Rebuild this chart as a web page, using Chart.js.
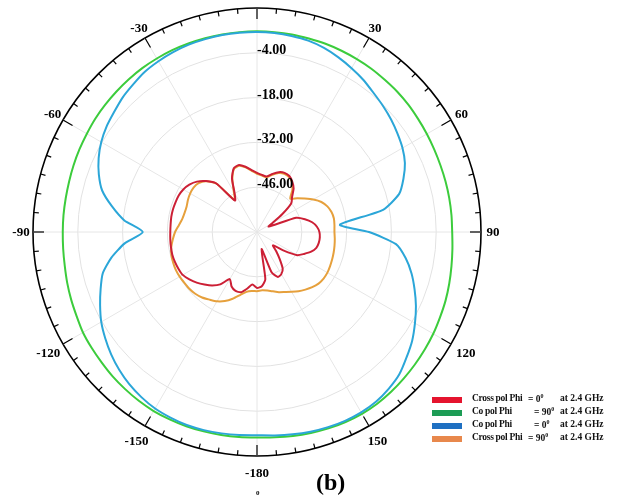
<!DOCTYPE html>
<html>
<head>
<meta charset="utf-8">
<script src="https://cdn.jsdelivr.net/npm/chart.js@4.4.1/dist/chart.umd.min.js"></script>
<style>
  body { margin: 0; background: #fff; }
  #wrap { position: relative; width: 625px; height: 499px; font-family: "Liberation Serif", serif; font-weight: bold; }
  #legend { position: absolute; left: 432px; top: 393px; font-size: 9.5px; color: #111; }
  .row { position: relative; height: 13px; width: 190px; }
  .sw { position: absolute; left: 0; top: 4px; width: 30px; height: 6px; }
  .row span { position: absolute; top: 0; white-space: nowrap; }
  .row .nm { letter-spacing: -0.3px; }
  .row sup { font-size: 6px; }
  #tag { position: absolute; left: 316px; top: 469px; font-size: 24px; }
  #tiny { position: absolute; left: 256px; top: 489px; font-size: 7px; }
</style>
</head>
<body>
<div id="wrap">
  <canvas id="polar" width="625" height="499"></canvas>
  <div id="legend"></div>
  <div id="tag">(b)</div>
  <div id="tiny">0</div>
</div>
<script>
// angle of every sample, degrees, clockwise from top
const angles = [0, 5, 10, 15, 20, 25, 30, 35, 40, 45, 50, 55, 60, 65, 70, 75, 80, 85,
  90, 95, 100, 105, 110, 115, 120, 125, 130, 135, 140, 145, 150, 155, 160, 165, 170, 175,
  -180, -175, -170, -165, -160, -155, -150, -145, -140, -135, -130, -125, -120, -115, -110, -105, -100, -95,
  -90, -85, -80, -75, -70, -65, -60, -55, -50, -45, -40, -35, -30, -25, -20, -15, -10, -5];
const shownAngles = [30, 60, 90, 120, 150, -180, -150, -120, -90, -60, -30];
const radialTicks = [-46, -32, -18, -4];

// dB values, one per angle above
const crossPhi0 = [-41.5, -42.1, -42.4, -41.2, -40.1, -39.6, -39.8, -40.8, -42.2, -44.5, -46.0, -50.5, -54.5, -56.0, -47.0, -44.5, -42.5, -41.2,
  -40.5, -40.3, -40.4, -40.8, -42.0, -43.8, -45.5, -50.0, -53.5, -51.5, -49.0, -46.0, -44.8, -44.5, -46.5, -54.5, -45.0, -43.0,
  -42.5, -43.5, -42.0, -40.5, -40.4, -41.2, -43.0, -40.0, -38.2, -36.8, -35.4, -34.2, -33.2, -32.9, -32.7, -32.6, -32.7, -32.8,
  -32.9, -32.9, -32.8, -32.8, -32.9, -33.0, -33.4, -34.2, -35.5, -37.5, -40.2, -48.0, -46.0, -41.5, -38.8, -38.3, -39.3, -40.6];
const coPhi90 = [2.7, 2.7, 2.7, 2.6, 2.6, 2.5, 2.4, 2.3, 2.1, 2.0, 1.8, 1.5, 1.3, 1.1, 1.0, 1.0, 1.0, 1.0,
  1.0, 1.3, 1.7, 2.2, 2.7, 3.1, 3.6, 4.0, 4.4, 4.8, 5.2, 5.5, 5.6, 5.5, 5.3, 5.0, 4.7, 4.4,
  4.2, 4.3, 4.4, 4.5, 4.6, 4.6, 4.6, 4.4, 4.1, 3.8, 3.4, 3.1, 2.8, 2.2, 1.8, 1.4, 1.0, 0.8,
  0.7, 0.7, 0.7, 0.8, 1.0, 1.2, 1.4, 1.7, 1.9, 2.1, 2.3, 2.5, 2.6, 2.7, 2.7, 2.7, 2.7, 2.7];
const coPhi0 = [2.5, 2.4, 2.2, 1.9, 1.2, 0.2, -0.9, -2.0, -3.3, -4.3, -5.3, -6.4, -7.5, -9.0, -11.3, -14.0, -20.0, -34.0,
  -25.0, -16.4, -12.8, -10.0, -7.6, -5.2, -3.0, -0.8, 1.0, 2.9, 4.0, 4.8, 5.1, 5.1, 4.9, 4.6, 4.2, 3.8,
  3.5, 3.7, 3.9, 4.1, 4.2, 4.0, 3.7, 3.0, 2.1, 0.9, -0.5, -2.1, -3.8, -5.9, -8.0, -10.1, -13.8, -18.4,
  -24.3, -18.4, -14.0, -9.9, -7.4, -5.4, -3.8, -2.6, -1.7, -0.6, 0.2, 1.1, 1.6, 2.0, 2.3, 2.4, 2.5, 2.5];
const crossPhi90 = [-41.8, -42.3, -42.6, -41.5, -40.4, -39.9, -40.1, -41.0, -42.8, -45.3, -43.6, -41.8, -39.7, -37.8, -36.6, -35.9, -35.6, -35.7,
  -35.8, -35.6, -35.4, -35.2, -35.0, -34.8, -34.6, -34.6, -34.9, -35.6, -36.5, -37.4, -38.4, -39.3, -40.0, -40.8, -41.4, -41.7,
  -41.5, -41.5, -41.0, -39.6, -37.8, -36.2, -35.0, -34.2, -33.3, -32.7, -32.4, -32.3, -32.1, -32.0, -32.1, -32.3, -32.8, -33.6,
  -34.4, -35.5, -36.3, -36.6, -36.6, -36.2, -35.9, -35.8, -36.2, -37.6, -40.2, -47.8, -45.5, -41.8, -39.0, -38.6, -39.5, -40.8];

const legendItems = [
  { name: "Cross pol Phi", eq: "= 0", eqX: 96, swatch: "#e5142e" },
  { name: "Co pol Phi", eq: "= 90", eqX: 102, swatch: "#1c9c55" },
  { name: "Co pol Phi", eq: "= 0", eqX: 102, swatch: "#1f70c2" },
  { name: "Cross pol Phi", eq: "= 90", eqX: 96, swatch: "#e8884c" },
];

// legend (html)
const legendEl = document.getElementById("legend");
legendItems.forEach((it) => {
  const row = document.createElement("div");
  row.className = "row";
  row.innerHTML = `<div class="sw" style="background:${it.swatch}"></div>
    <span class="nm" style="left:40px">${it.name}</span>
    <span style="left:${it.eqX}px">${it.eq}<sup>0</sup></span>
    <span style="left:128px">at 2.4 GHz</span>`;
  legendEl.appendChild(row);
});

// outer ring ticks + labels, radial value labels
const polarFrame = {
  id: "polarFrame",
  afterDraw(chart) {
    const r = chart.scales.r;
    const ctx = chart.ctx;
    const R = r.drawingArea;
    ctx.save();
    ctx.strokeStyle = "#000";
    ctx.lineWidth = 1.2;
    for (let i = 0; i < angles.length; i++) {
      const major = angles[i] % 30 === 0;
      const p1 = r.getPointPosition(i, R);
      const p2 = r.getPointPosition(i, R - (major ? 11 : 5));
      ctx.beginPath();
      ctx.moveTo(p1.x, p1.y);
      ctx.lineTo(p2.x, p2.y);
      ctx.stroke();
    }
    ctx.fillStyle = "#000";
    ctx.font = 'bold 13px "Liberation Serif"';
    ctx.textAlign = "center";
    ctx.textBaseline = "middle";
    angles.forEach((a, i) => {
      if (!shownAngles.includes(a)) return;
      const c = Math.cos(r.getIndexAngle(i));
      const p = r.getPointPosition(i, R + 12 + (c < -0.1 ? 5 : 0));
      ctx.fillText(String(a), p.x, p.y + 1);
    });
    ctx.font = 'bold 14px "Liberation Serif"';
    ctx.textAlign = "left";
    ctx.textBaseline = "alphabetic";
    radialTicks.forEach((v) => {
      const d = r.getDistanceFromCenterForValue(v);
      ctx.fillText(v.toFixed(2), r.xCenter, r.yCenter - d + 1);
    });
    ctx.restore();
  },
};

const line = (label, data, color) => ({
  label, data, borderColor: color, borderWidth: 2, pointRadius: 0, fill: false, tension: 0.2,
});

new Chart(document.getElementById("polar"), {
  type: "radar",
  data: {
    labels: angles,
    datasets: [
      line("Cross pol Phi = 0 at 2.4 GHz", crossPhi0, "#cc1f35"),
      line("Co pol Phi = 0 at 2.4 GHz", coPhi0, "#2ba6d8"),
      line("Cross pol Phi = 90 at 2.4 GHz", crossPhi90, "#e6a03c"),
      line("Co pol Phi = 90 at 2.4 GHz", coPhi90, "#3ccc3c"),
    ],
  },
  options: {
    responsive: false,
    animation: false,
    layout: { padding: { left: 33, top: 8, right: 144, bottom: 43 } },
    plugins: { legend: { display: false }, tooltip: { enabled: false } },
    scales: {
      r: {
        min: -60,
        max: 10,
        ticks: { stepSize: 14, display: false },
        pointLabels: { display: false },
        grid: {
          circular: true,
          color: (c) => (c.tick && c.tick.value === 10 ? "#000" : "#e2e2e2"),
          lineWidth: (c) => (c.tick && c.tick.value === 10 ? 1.6 : 1),
        },
        angleLines: {
          color: "#e6e6e6",
          lineWidth: (c) => (angles[c.index] % 30 === 0 ? 1 : 0),
        },
      },
    },
  },
  plugins: [polarFrame],
});
</script>
</body>
</html>
